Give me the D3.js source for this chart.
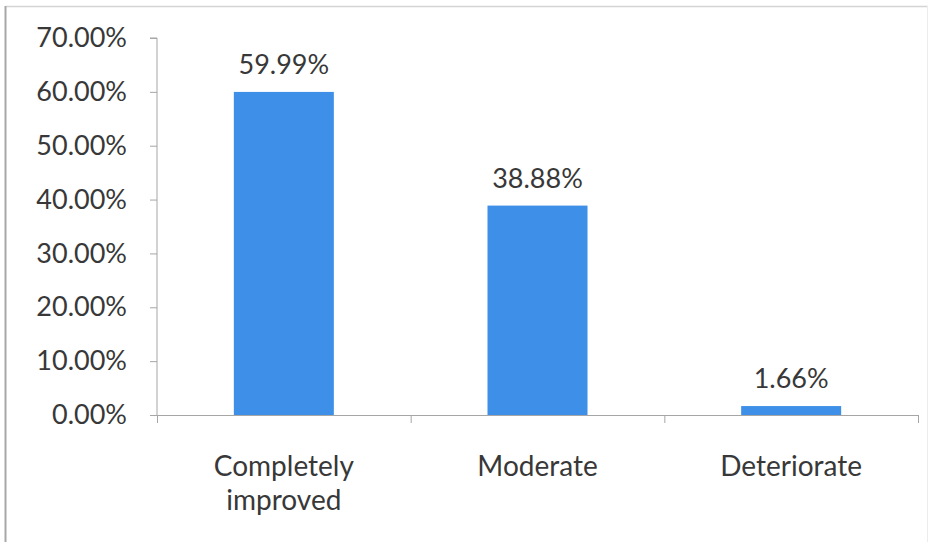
<!DOCTYPE html>
<html><head><meta charset="utf-8">
<script src="https://cdn.jsdelivr.net/npm/d3@7/dist/d3.min.js"></script>
<style>body{margin:0;background:#fff}svg{display:block}text{font-family:Lato,"Open Sans",sans-serif;fill:#383838}</style>
</head><body>
<script>
const categories = [["Completely","improved"],["Moderate"],["Deteriorate"]];
const values = [59.99, 38.88, 1.66];
const valueLabels = ["59.99%","38.88%","1.66%"];
const yTicks = [0,10,20,30,40,50,60,70];

const W=932,H=542;
const svg=d3.select("body").append("svg").attr("width",W).attr("height",H);
// frame
svg.append("line").attr("x1",6).attr("x2",928).attr("y1",6.5).attr("y2",6.5).attr("stroke","#d4d4d4").attr("stroke-width",1.5);
svg.append("line").attr("x1",5.5).attr("x2",5.5).attr("y1",6).attr("y2",H).attr("stroke","#a8a8a8").attr("stroke-width",2);
svg.append("line").attr("x1",927.5).attr("x2",927.5).attr("y1",6).attr("y2",H).attr("stroke","#ececec").attr("stroke-width",1);

const x0=157,x1=918,yTop=38,yBot=415;
const x=d3.scaleBand().domain(d3.range(categories.length)).range([x0,x1]).paddingInner(0).paddingOuter(0);
const y=d3.scaleLinear().domain([0,70]).range([yBot,yTop]);
const barW=100;

// y axis
const ya=svg.append("g").attr("transform",`translate(${x0},0)`)
 .call(d3.axisLeft(y).tickValues(yTicks).tickSize(7).tickPadding(23).tickFormat(d=>d.toFixed(2)+"%"));
ya.select(".domain").attr("stroke","#a6a6a6").attr("d",`M-7,${yTop}H0V${yBot}`);
ya.selectAll(".tick line").attr("stroke","#a6a6a6");
ya.selectAll(".tick text").style("font-size","27px").style("fill","#383838").attr("font-family","Lato");

// x axis
const xa=svg.append("g").attr("transform",`translate(0,${yBot})`);
xa.append("line").attr("x1",x0-7).attr("x2",x1).attr("y1",0.5).attr("y2",0.5).attr("stroke","#a6a6a6");
const bounds=[...x.domain().map(i=>x(i)), x1];
xa.selectAll("line.tk").data(bounds).join("line").attr("class","tk")
 .attr("x1",d=>d+0.5).attr("x2",d=>d+0.5).attr("y1",0).attr("y2",8).attr("stroke","#a6a6a6");

// bars
svg.selectAll("rect.bar").data(values).join("rect").attr("class","bar")
 .attr("x",(d,i)=>x(i)+x.bandwidth()/2-barW/2).attr("width",barW)
 .attr("y",d=>y(d)).attr("height",d=>yBot-y(d)).attr("fill","#3d8fe8");

// value labels
svg.selectAll("text.val").data(values).join("text").attr("class","val")
 .attr("x",(d,i)=>x(i)+x.bandwidth()/2).attr("y",d=>y(d)-18)
 .attr("text-anchor","middle").style("font-size","27px").text((d,i)=>valueLabels[i]);

// category labels
const cl=svg.selectAll("text.cat").data(categories).join("text").attr("class","cat")
 .attr("x",(d,i)=>x(i)+x.bandwidth()/2).attr("y",476)
 .attr("text-anchor","middle").style("font-size","28px");
cl.selectAll("tspan").data(d=>d).join("tspan")
 .attr("x",function(){return d3.select(this.parentNode).attr("x");})
 .attr("dy",(d,i)=>i?34:0).text(d=>d);
</script>
</body></html>
